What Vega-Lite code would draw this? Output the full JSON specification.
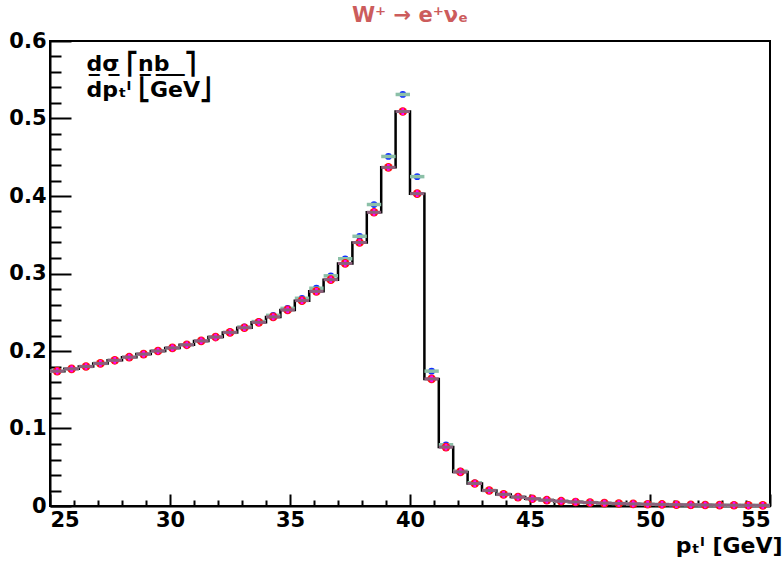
{
  "$schema": "https://vega.github.io/schema/vega-lite/v6.json",
  "autosize": "none",
  "padding": {"left": 50, "top": 41, "right": 14, "bottom": 56},
  "width": 720,
  "height": 465,
  "background": "white",
  "title": {
    "text": "W⁺ → e⁺νₑ",
    "color": "#cc5c5c",
    "font": "DejaVu Sans",
    "fontWeight": "bold",
    "fontSize": 21,
    "anchor": "middle",
    "offset": 4
  },
  "config": {
    "view": {"stroke": "black", "strokeWidth": 2},
    "axis": {
      "grid": false,
      "domainColor": "black",
      "domainWidth": 2,
      "tickColor": "black",
      "tickWidth": 2,
      "labelFont": "DejaVu Sans",
      "labelFontWeight": "bold",
      "labelFontSize": 21,
      "labelColor": "black",
      "titleFont": "DejaVu Sans",
      "titleFontWeight": "bold",
      "titleColor": "black"
    }
  },
  "data": {
    "values": [
      {"lo": 25.0, "hi": 25.6, "c": 25.3, "main": 0.174, "alt": 0.174},
      {"lo": 25.6, "hi": 26.2, "c": 25.9, "main": 0.177, "alt": 0.177},
      {"lo": 26.2, "hi": 26.8, "c": 26.5, "main": 0.180, "alt": 0.180},
      {"lo": 26.8, "hi": 27.4, "c": 27.1, "main": 0.184, "alt": 0.184},
      {"lo": 27.4, "hi": 28.0, "c": 27.7, "main": 0.188, "alt": 0.188},
      {"lo": 28.0, "hi": 28.6, "c": 28.3, "main": 0.192, "alt": 0.192},
      {"lo": 28.6, "hi": 29.2, "c": 28.9, "main": 0.196, "alt": 0.196},
      {"lo": 29.2, "hi": 29.8, "c": 29.5, "main": 0.200, "alt": 0.200},
      {"lo": 29.8, "hi": 30.4, "c": 30.1, "main": 0.204, "alt": 0.204},
      {"lo": 30.4, "hi": 31.0, "c": 30.7, "main": 0.208, "alt": 0.208},
      {"lo": 31.0, "hi": 31.6, "c": 31.3, "main": 0.213, "alt": 0.213},
      {"lo": 31.6, "hi": 32.2, "c": 31.9, "main": 0.218, "alt": 0.218},
      {"lo": 32.2, "hi": 32.8, "c": 32.5, "main": 0.224, "alt": 0.224},
      {"lo": 32.8, "hi": 33.4, "c": 33.1, "main": 0.230, "alt": 0.231},
      {"lo": 33.4, "hi": 34.0, "c": 33.7, "main": 0.237, "alt": 0.238},
      {"lo": 34.0, "hi": 34.6, "c": 34.3, "main": 0.244, "alt": 0.246},
      {"lo": 34.6, "hi": 35.2, "c": 34.9, "main": 0.253, "alt": 0.255},
      {"lo": 35.2, "hi": 35.8, "c": 35.5, "main": 0.265, "alt": 0.268},
      {"lo": 35.8, "hi": 36.4, "c": 36.1, "main": 0.277, "alt": 0.281},
      {"lo": 36.4, "hi": 37.0, "c": 36.7, "main": 0.292, "alt": 0.297},
      {"lo": 37.0, "hi": 37.6, "c": 37.3, "main": 0.313, "alt": 0.319},
      {"lo": 37.6, "hi": 38.2, "c": 37.9, "main": 0.340, "alt": 0.348},
      {"lo": 38.2, "hi": 38.8, "c": 38.5, "main": 0.379, "alt": 0.389},
      {"lo": 38.8, "hi": 39.4, "c": 39.1, "main": 0.437, "alt": 0.451},
      {"lo": 39.4, "hi": 40.0, "c": 39.7, "main": 0.509, "alt": 0.531},
      {"lo": 40.0, "hi": 40.6, "c": 40.3, "main": 0.403, "alt": 0.425},
      {"lo": 40.6, "hi": 41.2, "c": 40.9, "main": 0.164, "alt": 0.174},
      {"lo": 41.2, "hi": 41.8, "c": 41.5, "main": 0.076, "alt": 0.079},
      {"lo": 41.8, "hi": 42.4, "c": 42.1, "main": 0.044, "alt": 0.045},
      {"lo": 42.4, "hi": 43.0, "c": 42.7, "main": 0.029, "alt": 0.030},
      {"lo": 43.0, "hi": 43.6, "c": 43.3, "main": 0.020, "alt": 0.020},
      {"lo": 43.6, "hi": 44.2, "c": 43.9, "main": 0.015, "alt": 0.015},
      {"lo": 44.2, "hi": 44.8, "c": 44.5, "main": 0.0115, "alt": 0.0115},
      {"lo": 44.8, "hi": 45.4, "c": 45.1, "main": 0.0093, "alt": 0.0093},
      {"lo": 45.4, "hi": 46.0, "c": 45.7, "main": 0.0075, "alt": 0.0075},
      {"lo": 46.0, "hi": 46.6, "c": 46.3, "main": 0.0062, "alt": 0.0062},
      {"lo": 46.6, "hi": 47.2, "c": 46.9, "main": 0.0052, "alt": 0.0052},
      {"lo": 47.2, "hi": 47.8, "c": 47.5, "main": 0.0044, "alt": 0.0044},
      {"lo": 47.8, "hi": 48.4, "c": 48.1, "main": 0.0037, "alt": 0.0037},
      {"lo": 48.4, "hi": 49.0, "c": 48.7, "main": 0.0032, "alt": 0.0032},
      {"lo": 49.0, "hi": 49.6, "c": 49.3, "main": 0.0027, "alt": 0.0027},
      {"lo": 49.6, "hi": 50.2, "c": 49.9, "main": 0.0023, "alt": 0.0023},
      {"lo": 50.2, "hi": 50.8, "c": 50.5, "main": 0.0020, "alt": 0.0020},
      {"lo": 50.8, "hi": 51.4, "c": 51.1, "main": 0.0017, "alt": 0.0017},
      {"lo": 51.4, "hi": 52.0, "c": 51.7, "main": 0.0015, "alt": 0.0015},
      {"lo": 52.0, "hi": 52.6, "c": 52.3, "main": 0.0013, "alt": 0.0013},
      {"lo": 52.6, "hi": 53.2, "c": 52.9, "main": 0.0011, "alt": 0.0011},
      {"lo": 53.2, "hi": 53.8, "c": 53.5, "main": 0.0010, "alt": 0.0010},
      {"lo": 53.8, "hi": 54.4, "c": 54.1, "main": 0.0009, "alt": 0.0009},
      {"lo": 54.4, "hi": 55.0, "c": 54.7, "main": 0.0008, "alt": 0.0008}
    ]
  },
  "encoding": {
    "x": {
      "type": "quantitative",
      "scale": {"domain": [25, 55], "nice": false, "zero": false},
      "axis": {
        "values": [25,26,27,28,29,30,31,32,33,34,35,36,37,38,39,40,41,42,43,44,45,46,47,48,49,50,51,52,53,54,55],
        "format": ".0f",
        "labelExpr": "datum.value % 5 === 0 ? datum.label : ''",
        "tickSize": {"condition": {"test": "datum.value % 5 === 0", "value": -12}, "value": -6},
        "labelPadding": 15,
        "title": "pₜˡ [GeV]",
        "titleFontSize": 22,
        "titleAnchor": "end",
        "titleAlign": "right",
        "titleX": 732,
        "titleY": 46,
        "titleBaseline": "alphabetic"
      }
    },
    "y": {
      "type": "quantitative",
      "scale": {"domain": [0, 0.6], "nice": false},
      "axis": {
        "values": [0,0.02,0.04,0.06,0.08,0.1,0.12,0.14,0.16,0.18,0.2,0.22,0.24,0.26,0.28,0.3,0.32,0.34,0.36,0.38,0.4,0.42,0.44,0.46,0.48,0.5,0.52,0.54,0.56,0.58,0.6],
        "format": ".1~f",
        "labelExpr": "abs(datum.value*10 - round(datum.value*10)) < 0.001 ? format(datum.value, '.1~f') : ''",
        "tickSize": {"condition": {"test": "abs(datum.value*10 - round(datum.value*10)) < 0.001", "value": -21}, "value": -11},
        "labelPadding": 25,
        "title": ["d̲σ̲  ⎡n̲b̲ ̲ ̲⎤", "dpₜˡ ⎣GeV⎦"],
        "titleFontSize": 22,
        "titleAngle": 0,
        "titleAlign": "left",
        "titleBaseline": "top",
        "titleX": 36,
        "titleY": 12,
        "titleLineHeight": 26
      }
    }
  },
  "layer": [
    {
      "mark": {"type": "line", "interpolate": "step-after", "color": "black", "strokeWidth": 2.5},
      "encoding": {"x": {"field": "lo"}, "y": {"field": "main"}}
    },
    {
      "mark": {"type": "point", "shape": "circle", "filled": true, "color": "#1030ff", "size": 45, "opacity": 1},
      "encoding": {"x": {"field": "c"}, "y": {"field": "alt"}}
    },
    {
      "mark": {"type": "rule", "color": "#8cc0a8", "strokeWidth": 3.5},
      "encoding": {"x": {"field": "lo"}, "x2": {"field": "hi"}, "y": {"field": "alt"}}
    },
    {
      "mark": {"type": "point", "shape": "circle", "filled": true, "color": "#ff1010", "size": 75, "opacity": 1},
      "encoding": {"x": {"field": "c"}, "y": {"field": "main"}}
    },
    {
      "mark": {"type": "point", "shape": "cross", "filled": true, "color": "#ff00ff", "size": 45, "opacity": 1},
      "encoding": {"x": {"field": "c"}, "y": {"field": "main"}}
    },
    {
      "mark": {"type": "rule", "color": "#8c5f7c", "strokeWidth": 3},
      "encoding": {"x": {"field": "lo"}, "x2": {"field": "hi"}, "y": {"field": "main"}}
    }
  ]
}
